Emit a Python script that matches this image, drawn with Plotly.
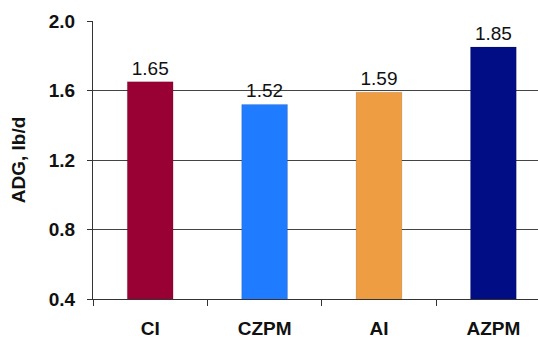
import plotly.graph_objects as go

# Average daily gain by treatment
treatments = ["CI", "CZPM", "AI", "AZPM"]
adg = [1.65, 1.52, 1.59, 1.85]
bar_colors = ["#990033", "#1F7BFF", "#EF9D43", "#000D84"]
y_ticks = [0.4, 0.8, 1.2, 1.6, 2.0]

FONT = "Liberation Sans, Arial, sans-serif"

fig = go.Figure(
    go.Bar(
        x=treatments,
        y=adg,
        width=0.4,
        marker=dict(color=bar_colors, line=dict(color="rgba(0,0,0,0.25)", width=0.5)),
        text=[f"{v:.2f}" for v in adg],
        textposition="outside",
        textfont=dict(family=FONT, size=19, color="#111"),
        cliponaxis=False,
    )
)

fig.update_layout(
    width=538,
    height=339,
    margin=dict(l=93, r=0, t=21, b=40),
    paper_bgcolor="white",
    plot_bgcolor="white",
    showlegend=False,
    bargap=0.6,
)

fig.update_xaxes(
    range=[-0.5, 3.39],
    showline=True,
    linecolor="#333",
    linewidth=1,
    ticks="outside",
    tickson="boundaries",
    ticklen=6,
    tickcolor="#333",
    ticklabelstandoff=12,
    tickfont=dict(family=FONT, size=19, color="#111", weight="bold"),
    showgrid=False,
)

fig.update_yaxes(
    range=[0.4, 2.0],
    tickvals=y_ticks,
    ticktext=[f"{v:.1f}" for v in y_ticks],
    showline=True,
    linecolor="#333",
    linewidth=1,
    ticks="outside",
    ticklen=5,
    tickcolor="#333",
    ticklabelstandoff=8,
    showgrid=True,
    gridcolor="#444",
    gridwidth=1,
    tickfont=dict(family=FONT, size=19, color="#111", weight="bold"),
    title=dict(text="ADG, lb/d", font=dict(family=FONT, size=19, color="#111", weight="bold"), standoff=18),
)

fig.write_html("out.html")
